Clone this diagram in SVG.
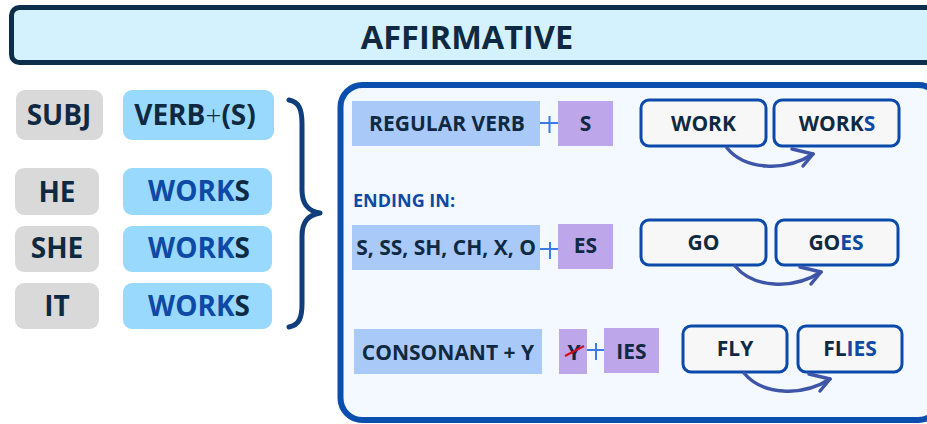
<svg xmlns="http://www.w3.org/2000/svg" width="927" height="424" viewBox="0 0 927 424">
<defs>
<style>
text{font-family:"Open Sans","Noto Sans","Liberation Sans",sans-serif;font-weight:700;fill:#0f2942}
.c{text-anchor:middle}
.b{fill:#0d49a5}
.grey{fill:#d9d9d9}
.lb{fill:#99d9fd}
.rb{fill:#a9c9f9}
.pu{fill:#bea6ea}
.wb{fill:#f7f7f7;stroke:#0b4aab;stroke-width:3}
.plus{stroke:#3c7be4;stroke-width:2;fill:none}
.arr{stroke:#3e55a8;stroke-width:3.5;fill:none;stroke-linecap:round;stroke-linejoin:round}
.lt{font-size:28px}
.rt{font-size:21px}
</style>
<g id="arrowShape">
<path d="M0,0 C18,22 58,24 86,6"/>
<path d="M65,1 L86,6 L76,18"/>
</g>
</defs>
<rect width="927" height="424" fill="#ffffff"/>

<g id="title">
<rect x="11.5" y="7.5" width="940" height="55" rx="8" fill="#d4f2fd" stroke="#0d2e4a" stroke-width="5"/>
<text x="467" y="49" class="c" font-size="32.5">AFFIRMATIVE</text>
</g>

<g id="panel">
<rect x="340.5" y="85" width="600" height="335" rx="22" fill="#f3f9fe" stroke="#0b4fae" stroke-width="6"/>
</g>

<g id="brace">
<path d="M289,100 C299,102 302,109 302,124 L302,190 C302,204 308,211 320,213 C308,215 302,222 302,236 L302,304 C302,318 299,325 289,327" fill="none" stroke="#103d7c" stroke-width="5" stroke-linecap="round" stroke-linejoin="round"/>
</g>

<g id="subj">
<rect x="16" y="90" width="87" height="50" rx="9" class="grey"/>
<text x="59" y="125" class="c lt">SUBJ</text>
</g>
<g id="verb">
<rect x="123" y="90" width="151" height="50" rx="9" class="lb"/>
<text x="195" y="125" class="c lt">VERB<tspan font-weight="300">+</tspan>(S)</text>
</g>
<g id="he">
<rect x="15" y="168" width="84" height="47" rx="9" class="grey"/>
<text x="57" y="202" class="c lt">HE</text>
</g>
<g id="works1">
<rect x="123" y="168" width="149" height="47" rx="9" class="lb"/>
<text x="199" y="201" class="c lt"><tspan class="b">WORK</tspan>S</text>
</g>
<g id="she">
<rect x="15" y="226" width="84" height="46" rx="9" class="grey"/>
<text x="57" y="258" class="c lt">SHE</text>
</g>
<g id="works2">
<rect x="123" y="226" width="149" height="46" rx="9" class="lb"/>
<text x="199" y="258" class="c lt"><tspan class="b">WORK</tspan>S</text>
</g>
<g id="it">
<rect x="15" y="283" width="84" height="46" rx="9" class="grey"/>
<text x="57" y="316" class="c lt">IT</text>
</g>
<g id="works3">
<rect x="123" y="283" width="149" height="46" rx="9" class="lb"/>
<text x="199" y="316" class="c lt"><tspan class="b">WORK</tspan>S</text>
</g>

<g id="regular">
<rect x="352" y="101" width="188" height="45" class="rb"/>
<text x="447" y="131" class="c rt">REGULAR VERB</text>
</g>
<g id="plus1"><path class="plus" d="M540,123 H559 M549.5,116 V133"/></g>
<g id="s">
<rect x="558" y="101" width="55" height="45" class="pu"/>
<text x="585.5" y="131" class="c rt">S</text>
</g>

<g id="endingin">
<text x="353" y="207" font-size="18" class="b">ENDING IN:</text>
</g>

<g id="endings">
<rect x="352" y="225" width="188" height="45" class="rb"/>
<text x="446" y="255" class="c rt">S, SS, SH, CH, X, O</text>
</g>
<g id="plus2"><path class="plus" d="M540,249 H559 M550,242 V259"/></g>
<g id="es">
<rect x="558" y="224" width="55" height="45" class="pu"/>
<text x="585.5" y="253" class="c rt">ES</text>
</g>

<g id="consonant">
<rect x="354" y="329" width="188" height="45" class="rb"/>
<text x="448" y="360" class="c rt">CONSONANT + Y</text>
</g>
<g id="y">
<rect x="559" y="329" width="28" height="45" class="pu"/>
<text x="574" y="360" class="c rt">Y</text>
<path d="M565,356 L584,346" stroke="#d0101f" stroke-width="2"/>
</g>
<g id="plus3"><path class="plus" d="M587,350 H605 M596,343 V360"/></g>
<g id="ies">
<rect x="604" y="328" width="55" height="45" class="pu"/>
<text x="631.5" y="359" class="c rt">IES</text>
</g>

<g id="work">
<rect x="641" y="100" width="125" height="46" rx="8" class="wb"/>
<text x="703.5" y="131" class="c rt">WORK</text>
</g>
<g id="worksR">
<rect x="774" y="100" width="125" height="46" rx="8" class="wb"/>
<text x="837" y="131" class="c rt">WORK<tspan class="b">S</tspan></text>
</g>
<g id="go">
<rect x="641" y="220" width="125" height="45" rx="8" class="wb"/>
<text x="703.5" y="250" class="c rt">GO</text>
</g>
<g id="goes">
<rect x="776" y="220" width="122" height="45" rx="8" class="wb"/>
<text x="836" y="250" class="c rt">GO<tspan class="b">ES</tspan></text>
</g>
<g id="fly">
<rect x="683" y="326" width="104" height="46" rx="8" class="wb"/>
<text x="735" y="356" class="c rt">FLY</text>
</g>
<g id="flies">
<rect x="798" y="326" width="104" height="46" rx="8" class="wb"/>
<text x="850" y="356" class="c rt">FL<tspan class="b">IES</tspan></text>
</g>

<g id="connectors" class="arr">
<use href="#arrowShape" transform="translate(727,148)"/>
<use href="#arrowShape" transform="translate(735,266)"/>
<use href="#arrowShape" transform="translate(744,373)"/>
</g>
</svg>
